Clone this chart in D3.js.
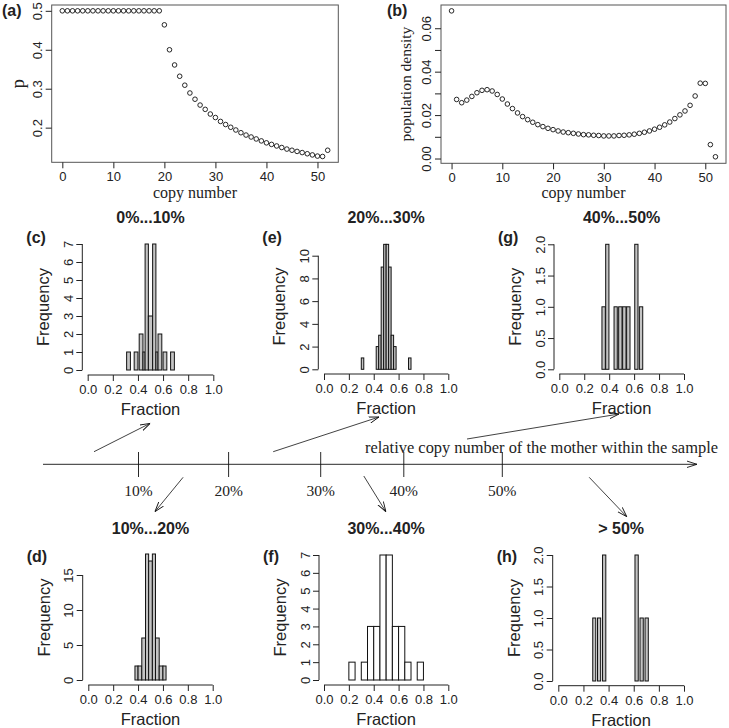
<!DOCTYPE html>
<html>
<head>
<meta charset="utf-8">
<script src="https://cdn.jsdelivr.net/npm/d3@7"></script>
<style>
body { margin: 0; background: #fff; }
svg { display: block; }
</style>
</head>
<body>
<svg id="fig" width="729" height="728"></svg>
<script>
// ---- data ----
const copyNumber = d3.range(0, 53);
const pValues = [
  0.5, 0.5, 0.5, 0.5, 0.5, 0.5, 0.5, 0.5, 0.5, 0.5,
  0.5, 0.5, 0.5, 0.5, 0.5, 0.5, 0.5, 0.5, 0.5, 0.5,
  0.464, 0.400, 0.361, 0.332, 0.309, 0.289, 0.273, 0.258, 0.247, 0.235,
  0.226, 0.216, 0.208, 0.201, 0.194, 0.187, 0.181, 0.176, 0.171, 0.166,
  0.161, 0.157, 0.153, 0.149, 0.145, 0.142, 0.139, 0.136, 0.133, 0.130,
  0.127, 0.126, 0.142
];
const densityValues = [
  0.0680, 0.0272, 0.0257, 0.0269, 0.0286, 0.0303, 0.0314, 0.0317, 0.0311, 0.0295,
  0.0274, 0.0251, 0.0230, 0.0210, 0.0193, 0.0179, 0.0167, 0.0156, 0.0147, 0.0139,
  0.0133, 0.0127, 0.0122, 0.0119, 0.0116, 0.0113, 0.0110, 0.0109, 0.0107, 0.0106,
  0.0104, 0.0104, 0.0104, 0.0106, 0.0107, 0.0109, 0.0112, 0.0116, 0.0121, 0.0127,
  0.0135, 0.0144, 0.0155, 0.0168, 0.0184, 0.0201, 0.0219, 0.0245, 0.0288, 0.0347,
  0.0346, 0.0064, 0.0008
];
const copyTicks = [0, 10, 20, 30, 40, 50];
const pTicks = [0.2, 0.3, 0.4, 0.5];
const densityTicks = [0, 0.01, 0.02, 0.03, 0.04, 0.05, 0.06];
const densityLabelled = [0, 0.02, 0.04, 0.06];
const fractionTicks = [0, 0.2, 0.4, 0.6, 0.8, 1.0];

// histogram bins: [from, to, count]
const binsC = [[0.31, 0.34, 1], [0.37, 0.40, 1], [0.41, 0.44, 2], [0.44, 0.457, 1], [0.457, 0.483, 7],
  [0.483, 0.517, 3], [0.517, 0.543, 7], [0.543, 0.56, 1], [0.56, 0.59, 2], [0.60, 0.63, 1], [0.66, 0.69, 1]];
const binsD = [[0.375, 0.40, 2], [0.40, 0.43, 2], [0.43, 0.46, 6], [0.46, 0.485, 18], [0.485, 0.515, 17],
  [0.515, 0.54, 18], [0.54, 0.57, 6], [0.57, 0.60, 2], [0.60, 0.625, 2]];
const binsE = [[0.30, 0.32, 1], [0.42, 0.44, 2], [0.44, 0.46, 3], [0.46, 0.48, 9], [0.48, 0.50, 11],
  [0.50, 0.52, 11], [0.52, 0.54, 9], [0.54, 0.56, 3], [0.56, 0.58, 2], [0.68, 0.70, 1]];
const binsF = [[0.20, 0.25, 1], [0.30, 0.35, 1], [0.35, 0.40, 3], [0.40, 0.45, 3], [0.45, 0.50, 7],
  [0.50, 0.55, 7], [0.55, 0.60, 3], [0.60, 0.65, 3], [0.65, 0.70, 1], [0.75, 0.80, 1]];
const binsG = [[0.342, 0.369, 1], [0.372, 0.398, 2], [0.439, 0.465, 1], [0.476, 0.503, 1], [0.508, 0.535, 1],
  [0.540, 0.567, 1], [0.605, 0.631, 2], [0.642, 0.669, 1]];
const binsH = [[0.274, 0.298, 1], [0.312, 0.337, 1], [0.352, 0.378, 2], [0.61, 0.636, 2], [0.65, 0.676, 1], [0.69, 0.716, 1]];

const percentTicks = [10, 20, 30, 40, 50];

// ---- drawing ----
const fig = d3.select('#fig');
const SANS = 'Liberation Sans, Arial, Helvetica, sans-serif';
const SERIF = 'Liberation Serif, Times New Roman, serif';
const INK = '#222';

// R style: extend the data range by 4% on each side
function padDomain(vals) {
  const [lo, hi] = d3.extent(vals);
  const p = (hi - lo) * 0.04;
  return [lo - p, hi + p];
}

function styleAxis(g, size) {
  g.attr('font-family', SANS).attr('font-size', size);
  g.select('.domain').remove();
  g.selectAll('.tick line').attr('stroke', INK);
  g.selectAll('.tick text').attr('fill', INK);
}

// tick labels parallel to a vertical axis, as R does by default
function rotateYLabels(g, offset) {
  g.selectAll('.tick text')
    .attr('transform', 'rotate(-90)')
    .attr('x', 0).attr('y', -offset).attr('dy', 0)
    .attr('text-anchor', 'middle');
}

function panelLetter(txt, x, y) {
  fig.append('text').attr('x', x).attr('y', y)
    .attr('font-family', SANS).attr('font-weight', 'bold').attr('font-size', 16)
    .attr('fill', INK).text(txt);
}

function scatterPanel(o) {
  const g = fig.append('g');
  const x = d3.scaleLinear().domain(padDomain(copyNumber)).range([o.left, o.right]);
  const y = d3.scaleLinear().domain(o.yDomain).range([o.bottom, o.top]);

  g.append('rect')
    .attr('x', o.left).attr('y', o.top)
    .attr('width', o.right - o.left).attr('height', o.bottom - o.top)
    .attr('fill', 'none').attr('stroke', '#555');

  const xa = g.append('g').attr('transform', `translate(0,${o.bottom})`)
    .call(d3.axisBottom(x).tickValues(copyTicks).tickSize(6).tickPadding(3));
  styleAxis(xa, 13);

  const ya = g.append('g').attr('transform', `translate(${o.left},0)`)
    .call(d3.axisLeft(y).tickValues(o.yTicks).tickSize(6).tickFormat(o.yFormat));
  styleAxis(ya, 13);
  rotateYLabels(ya, 10);

  g.selectAll('circle.pt')
    .data(o.values)
    .enter().append('circle')
    .attr('class', 'pt')
    .attr('cx', (d, i) => x(copyNumber[i]))
    .attr('cy', d => y(d))
    .attr('r', 2.3)
    .attr('fill', 'none')
    .attr('stroke', '#111')
    .attr('stroke-width', 0.9);

  g.append('text')
    .attr('x', (o.left + o.right) / 2).attr('y', 198)
    .attr('text-anchor', 'middle')
    .attr('font-family', SERIF).attr('font-size', 16).attr('fill', INK)
    .text('copy number');

  g.append('text')
    .attr('transform', `translate(${o.ylabX},${(o.top + o.bottom) / 2}) rotate(-90)`)
    .attr('text-anchor', 'middle')
    .attr('font-family', SERIF).attr('font-size', o.ylabSize).attr('fill', INK)
    .text(o.ylab);

  panelLetter(o.letter, o.letterX, 16);
}

scatterPanel({
  values: pValues, left: 51.7, right: 338.3, top: 5, bottom: 162.3,
  yDomain: padDomain(pValues), yTicks: pTicks, yFormat: d3.format('.1f'),
  ylab: 'p', ylabX: 24, ylabSize: 19, letter: '(a)', letterX: 2
});

scatterPanel({
  values: densityValues, left: 441, right: 726, top: 5, bottom: 163.3,
  yDomain: [-0.0022, 0.0707], yTicks: densityTicks,
  yFormat: d => densityLabelled.includes(d) ? d3.format('.2f')(d) : '',
  ylab: 'population density', ylabX: 411, ylabSize: 15.5, letter: '(b)', letterX: 387
});

function histPanel(o) {
  const g = fig.append('g');
  const x = d3.scaleLinear().domain([0, 1]).range(o.xr);
  const y = d3.scaleLinear().domain([0, o.refVal]).range([o.base, o.refPx]);

  g.selectAll('rect.bar')
    .data(o.bins)
    .enter().append('rect')
    .attr('class', 'bar')
    .attr('x', d => x(d[0]))
    .attr('y', d => y(d[2]))
    .attr('width', d => x(d[1]) - x(d[0]))
    .attr('height', d => y(0) - y(d[2]))
    .attr('fill', o.fill)
    .attr('stroke', '#111')
    .attr('stroke-width', 1);

  // x axis, drawn below the bars like R's hist
  const xa = g.append('g').attr('transform', `translate(0,${o.xAxisY})`)
    .call(d3.axisBottom(x).tickValues(fractionTicks).tickSize(6).tickPadding(4).tickFormat(d3.format('.1f')));
  styleAxis(xa, 13);
  xa.append('line').attr('x1', x(0)).attr('x2', x(1)).attr('stroke', INK);

  const yTicks = o.yTicks;
  const ya = g.append('g').attr('transform', `translate(${o.yAxisX},0)`)
    .call(d3.axisLeft(y).tickValues(yTicks).tickSize(6).tickFormat(o.yFormat));
  styleAxis(ya, 13);
  rotateYLabels(ya, 9.5);
  ya.append('line').attr('y1', y(yTicks[0])).attr('y2', y(yTicks[yTicks.length - 1])).attr('stroke', INK);

  const cx = (o.xr[0] + o.xr[1]) / 2;
  g.append('text')
    .attr('x', cx).attr('y', o.titleY + 6)
    .attr('text-anchor', 'middle')
    .attr('font-family', SANS).attr('font-weight', 'bold').attr('font-size', 16).attr('fill', INK)
    .text(o.title);

  g.append('text')
    .attr('x', cx).attr('y', o.xAxisY + 40)
    .attr('text-anchor', 'middle')
    .attr('font-family', SANS).attr('font-size', 16.5).attr('fill', INK)
    .text('Fraction');

  g.append('text')
    .attr('transform', `translate(${o.yAxisX - 33},${(y(0) + o.refPx) / 2 + (o.midShift || 0)}) rotate(-90)`)
    .attr('text-anchor', 'middle')
    .attr('font-family', SANS).attr('font-size', 16.5).attr('fill', INK)
    .text('Frequency');

  panelLetter(o.letter, o.yAxisX - 56, o.letterY + 6);
}

const topRow = { titleY: 216.7, letterY: 236.7 };
const bottomRow = { titleY: 528, letterY: 556 };

histPanel({ ...topRow, bins: binsC, title: '0%...10%', letter: '(c)', fill: '#c4c4c4',
  xr: [87.7, 213.3], base: 370, refVal: 7, refPx: 244, xAxisY: 375, yAxisX: 82.3,
  yTicks: d3.range(0, 8), yFormat: d3.format('d') });
histPanel({ ...topRow, bins: binsE, title: '20%...30%', letter: '(e)', fill: '#c4c4c4',
  xr: [324, 448.3], base: 369.3, refVal: 10, refPx: 255.7, xAxisY: 374, yAxisX: 318.3,
  yTicks: [0, 2, 4, 6, 8, 10], yFormat: d3.format('d'), midShift: -6 });
histPanel({ ...topRow, bins: binsG, title: '40%...50%', letter: '(g)', fill: '#c4c4c4',
  xr: [559.3, 684], base: 369.3, refVal: 2, refPx: 244.3, xAxisY: 374, yAxisX: 554,
  yTicks: [0, 0.5, 1, 1.5, 2], yFormat: d3.format('.1f') });
histPanel({ ...bottomRow, bins: binsD, title: '10%...20%', letter: '(d)', fill: '#c4c4c4',
  xr: [88.3, 212.7], base: 680, refVal: 15, refPx: 575, xAxisY: 685, yAxisX: 82.7,
  yTicks: [0, 5, 10, 15], yFormat: d3.format('d'), midShift: -10 });
histPanel({ ...bottomRow, bins: binsF, title: '30%...40%', letter: '(f)', fill: '#ffffff',
  xr: [324, 448.3], base: 680, refVal: 7, refPx: 555, xAxisY: 685, yAxisX: 319,
  yTicks: d3.range(0, 8), yFormat: d3.format('d') });
histPanel({ ...bottomRow, bins: binsH, title: '> 50%', letter: '(h)', fill: '#c4c4c4',
  xr: [558.3, 684], base: 681, refVal: 2, refPx: 555, xAxisY: 685.7, yAxisX: 552.7,
  yTicks: [0, 0.5, 1, 1.5, 2], yFormat: d3.format('.1f') });

// ---- schematic axis with arrows ----
const defs = fig.append('defs');
defs.append('marker')
  .attr('id', 'head')
  .attr('viewBox', '0 0 10 10')
  .attr('refX', 10).attr('refY', 5)
  .attr('markerWidth', 10).attr('markerHeight', 10)
  .attr('markerUnits', 'userSpaceOnUse')
  .attr('orient', 'auto')
  .append('path')
  .attr('d', 'M0,1.8 L10,5 L0,8.2')
  .attr('fill', 'none').attr('stroke', '#111').attr('stroke-width', 0.9);

// the hand drawn axis is not quite evenly spaced
const pct = d3.scaleLinear().domain(percentTicks).range([138.5, 228.6, 320.7, 403.8, 502.3]);
const axisY = 464.3;

const sch = fig.append('g');
sch.append('line')
  .attr('x1', 43).attr('y1', axisY).attr('x2', 697).attr('y2', axisY)
  .attr('stroke', '#111').attr('stroke-width', 0.9)
  .attr('marker-end', 'url(#head)');

sch.selectAll('line.tk')
  .data(percentTicks)
  .enter().append('line')
  .attr('class', 'tk')
  .attr('x1', d => pct(d)).attr('x2', d => pct(d))
  .attr('y1', 452).attr('y2', 477)
  .attr('stroke', '#111').attr('stroke-width', 0.9);

sch.selectAll('text.tl')
  .data(percentTicks)
  .enter().append('text')
  .attr('class', 'tl')
  .attr('x', d => pct(d)).attr('y', 496)
  .attr('text-anchor', 'middle')
  .attr('font-family', SERIF).attr('font-size', 15.5).attr('fill', INK)
  .text(d => d + '%');

sch.append('text')
  .attr('x', 365).attr('y', 453)
  .attr('textLength', 353).attr('lengthAdjust', 'spacingAndGlyphs')
  .attr('font-family', SERIF).attr('font-size', 16.3).attr('fill', INK)
  .text('relative copy number of the mother within the sample');

const arrows = [
  [94, 451.7, 150.2, 423.3],
  [273.2, 451.7, 379, 417],
  [467, 439, 619, 414],
  [183.1, 477.3, 154.9, 511.7],
  [363.8, 476, 385.9, 511.7],
  [589.2, 477.3, 626.8, 516.7]
];
sch.selectAll('line.arr')
  .data(arrows)
  .enter().append('line')
  .attr('class', 'arr')
  .attr('x1', d => d[0]).attr('y1', d => d[1])
  .attr('x2', d => d[2]).attr('y2', d => d[3])
  .attr('stroke', '#111').attr('stroke-width', 0.8)
  .attr('marker-end', 'url(#head)');
</script>
</body>
</html>
